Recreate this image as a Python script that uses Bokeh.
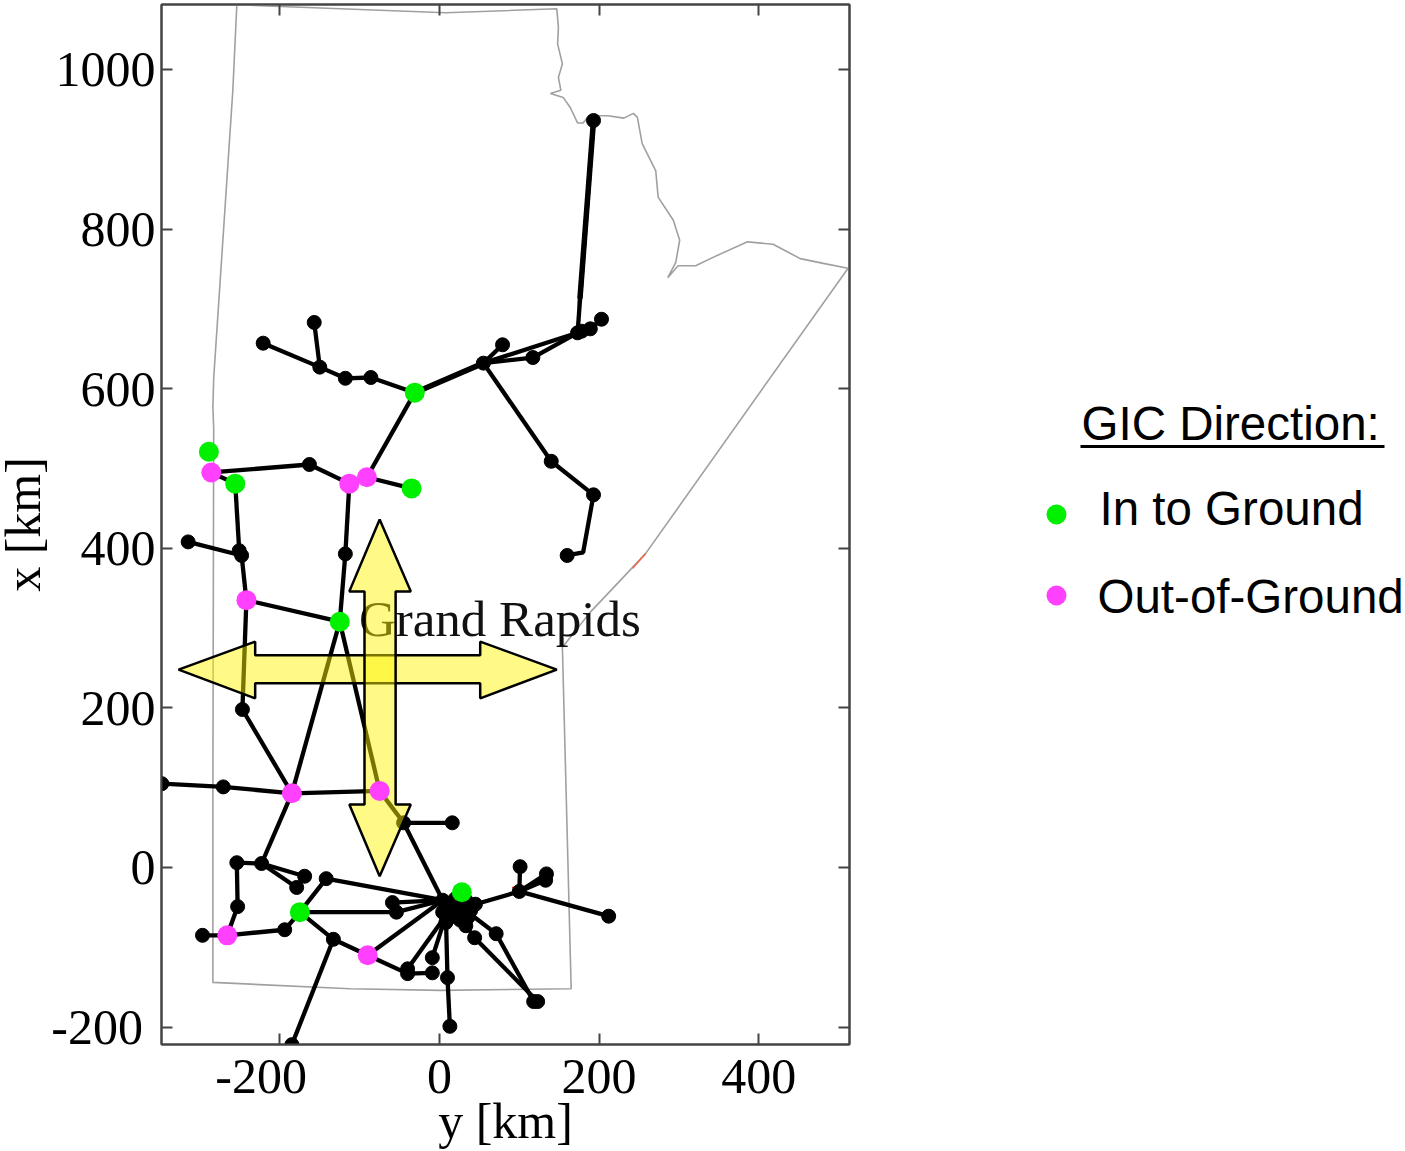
from bokeh.plotting import figure
from bokeh.layouts import row
from bokeh.models import LinearAxis, FixedTicker, Range1d
from bokeh.core.properties import value
from bokeh.embed import file_html
from bokeh.resources import INLINE

# ---- data (km) ----
NB = "\u00a0"
y_ticks = [-200, 0, 200, 400]
x_ticks = [-200, 0, 200, 400, 600, 800, 1000]
y_tick_labels = {-200: "-200" + NB * 3, 0: "0", 200: "200", 400: "400"}
x_tick_labels = {-200: "-200" + NB, 0: "0", 200: "200", 400: "400", 600: "600", 800: "800", 1000: "1000"}

boundary_y = [-254, -174, 8, 147, 149, 148, 154, 149, 152, 139, 155, 164, 173, 180, 187, 211, 231, 243, 248,
              254, 271, 274, 293, 301, 296, 286, 299, 321, 348, 386, 418, 452, 481, 512, 258, 189, 154, 165, 1, -112,
              -284, -284, -283, -284, -283, -259, -254]
boundary_x = [1081, 1078, 1071, 1076, 1053, 1032, 1007, 990, 974, 970, 965, 952, 933, 933, 942, 942, 939, 945, 940,
              907, 873, 840, 811, 786, 758, 739, 754, 754, 767, 784, 781, 763, 757, 751, 393, 320, 276, -152, -154, -152,
              -144, 88, 551, 576, 613, 974, 1081]

bus_y = [193, 173, 189, 203, 117, 55, 79, -31, -86, -118, -150, -157, -221, 140, 193, 160,
         -91, -113, -35, -163, -286, -289, -256, -251, -248, -315, -242, -125, -118, -247, -185, -75,
         -271, -348, -45, 16, 4, 8, 20, 29, 4, 28, 45, 100, 101, 134, 133, 212,
         -254, -223, -169, -179, -253, -266, -297, -194, -175, -142, -133, -90, -185, -59, -54,
         -40, -40, -9, -9, 10, 13, 33, 44, 71, 123, 118, 14, 36, 14, 24, 178, 12, 28,
         20, 33, 39, 26, 8]
bus_x = [936, 670, 675, 687, 639, 632, 655, 595, 614, 613, 627, 683, 657, 509, 467, 391,
         489, 481, 475, 505, 495, 521, 481, 397, 391, 408, 335, 308, 393, 198, 93, 96,
         101, 105, 56, 56, -41, -60, -56, -51, -56, -31, -46, -30, 1, -8, -16, -61,
         6, 5, -11, -25, -49, -85, -85, -78, -56, -14, -90, -110, -222, -44, -56,
         -127, -133, -113, -132, -138, -199, -73, -88, -83, -168, -168, -48, -62, -62, -42, 672, -52, -60,
         -39, -41, -54, -66, -69]

line_from = [0, 1, 2, 1, 1, 4, 5, 5, 7, 8, 9, 10, 10, 5, 13, 7, 16, 17, 19, 20, 22, 23, 25, 24, 26, 26,
             17, 28, 27, 27, 29, 30, 30, 32, 31, 34, 34, 30, 49, 48, 52, 53, 53, 55, 49, 49, 50, 56, 56, 56,
             57, 58, 58, 59, 59, 64, 63, 65, 67, 61, 62, 36, 36, 37, 39, 42, 43, 43, 43, 45, 43, 38, 69, 70, 39, 71, 73, 67]
line_to = [1, 2, 3, 4, 5, 5, 6, 7, 8, 9, 10, 11, 12, 13, 14, 16, 18, 19, 20, 22, 23, 24, 24, 26, 29, 27,
           28, 27, 30, 31, 30, 31, 32, 33, 34, 35, 36, 49, 48, 52, 53, 54, 55, 56, 50, 51, 51, 57, 58, 62,
           36, 59, 60, 36, 64, 66, 37, 37, 37, 36, 36, 38, 74, 40, 42, 43, 44, 45, 46, 46, 47, 69, 70, 72, 71, 73, 72, 68]

feeder_y = [193, 180, 160]
feeder_x = [467, 395, 391]
double_y = [[193, 176], [55, -31]]
double_x = [[936, 713], [632, 595]]

into_ground_y = [-31, -289, -256, -35, -125, 28, -175]
into_ground_x = [595, 521, 481, 475, 308, -31, -56]
out_of_ground_y = [-286, -91, -113, -242, -185, -75, -266, -90]
out_of_ground_x = [495, 489, 481, 335, 93, 96, -85, -110]

arrow_h_y = [-327, -231, -231, 51, 51, 147, 51, 51, -231, -231]
arrow_h_x = [248, 283, 266, 266, 283, 248, 212, 231, 231, 212]
arrow_v_y = [-75, -113, -94, -94, -113, -75, -36, -55, -55, -36]
arrow_v_x = [436, 346, 346, 79, 79, -11, 79, 79, 346, 346]

accent_y = [[170, 180], [91, 111], [242, 258], [174, 174]]
accent_x = [[393, 393], [-25, -25], [375, 393], [695, 715]]
accent_color = ["#ee2222", "#ee2222", "#ee6644", "#2222ee"]

legend_labels = ["In to Ground", "Out-of-Ground"]
legend_title = "GIC Direction:"

SERIF = "Liberation Serif"
SANS = "Liberation Sans"
AX = "#444444"

p = figure(width=871, height=1151, output_backend="svg", toolbar_location=None,
           x_range=Range1d(-348.4, 513.8), y_range=Range1d(-221.8, 1081.4),
           min_border_left=173, min_border_right=10, min_border_top=4, min_border_bottom=107,
           x_axis_label="y [km]", y_axis_label="x [km]")
p.grid.visible = False
p.outline_line_color = AX
p.outline_line_width = 2


def style(ax, ticks, labels=None):
    ax.ticker = FixedTicker(ticks=ticks)
    ax.axis_line_color = AX
    ax.axis_line_width = 2
    ax.major_tick_line_color = AX
    ax.major_tick_line_width = 2
    ax.major_tick_in = 11
    ax.major_tick_out = 0
    ax.minor_tick_line_color = None
    if labels:
        ax.major_label_overrides = labels
        ax.major_label_text_font = SERIF
        ax.major_label_text_font_size = "50px"
        ax.major_label_text_color = "black"
        ax.axis_label_text_font = SERIF
        ax.axis_label_text_font_size = "50px"
        ax.axis_label_text_font_style = "normal"
        ax.axis_label_text_color = "black"
    else:
        ax.major_label_overrides = {t: "" for t in ticks}
        ax.major_label_standoff = 0


style(p.xaxis[0], y_ticks, y_tick_labels)
style(p.yaxis[0], x_ticks, x_tick_labels)
p.xaxis[0].major_label_standoff = 3
p.xaxis[0].axis_label_standoff = -14
p.yaxis[0].major_label_standoff = 6
p.yaxis[0].axis_label_standoff = -3
top = LinearAxis()
right = LinearAxis()
p.add_layout(top, "above")
p.add_layout(right, "right")
style(top, y_ticks)
style(right, x_ticks)

p.line(boundary_y, boundary_x, line_color="#a0a0a0", line_width=1.6)
p.multi_line(accent_y, accent_x, line_color=accent_color, line_width=1.5)
seg_y = [[bus_y[a], bus_y[b]] for a, b in zip(line_from, line_to)] + [feeder_y]
seg_x = [[bus_x[a], bus_x[b]] for a, b in zip(line_from, line_to)] + [feeder_x]
p.multi_line(seg_y, seg_x, line_color="black", line_width=4.3)
p.multi_line(double_y, double_x, line_color="black", line_width=5.5)
p.scatter(bus_y, bus_x, size=14, marker="circle", fill_color="black", line_color="black")

p.text(x=[-101], y=[312], text=["Grand Rapids"], text_font=value(SERIF), text_font_size=value("51px"),
       text_color="#111111", text_baseline="alphabetic", text_align="left")

for ay, ax_ in ((arrow_h_y, arrow_h_x), (arrow_v_y, arrow_v_x)):
    p.patch(ay, ax_, fill_color="#FFF500", fill_alpha=0.48, line_color="black", line_width=2.5)

p.scatter(into_ground_y, into_ground_x, size=20, marker="circle", fill_color="#00F000", line_color=None)
p.scatter(out_of_ground_y, out_of_ground_x, size=20, marker="circle", fill_color="#FF40FF", line_color=None)

# legend panel: a plain figure whose ranges run in page pixels (its frame lines up with the plot frame)
q = figure(width=546, height=1151, output_backend="svg", toolbar_location=None,
           x_range=Range1d(859, 1405), y_range=Range1d(1044, 4),
           min_border_left=0, min_border_right=0, min_border_top=0, min_border_bottom=0)
q.axis.visible = False
q.grid.visible = False
q.outline_line_color = None
q.scatter([1056], [514], size=20, marker="circle", fill_color="#00F000", line_color=None)
q.scatter([1056], [595], size=20, marker="circle", fill_color="#FF40FF", line_color=None)
q.text(x=[1099, 1097], y=[508, 596], text=legend_labels, text_font=value(SANS), text_font_size=value("47.5px"),
       text_color="black", text_baseline="alphabetic")
q.text(x=[1081], y=[423], text=[legend_title], text_font=value(SANS), text_font_size=value("47.5px"),
       text_color="black", text_baseline="alphabetic")
q.line([1080, 1384], [446, 446], line_color="black", line_width=3)

layout = row(p, q, spacing=0, margin=(0, 0, 0, -12))
open("out.html", "w").write(file_html(layout, INLINE))
